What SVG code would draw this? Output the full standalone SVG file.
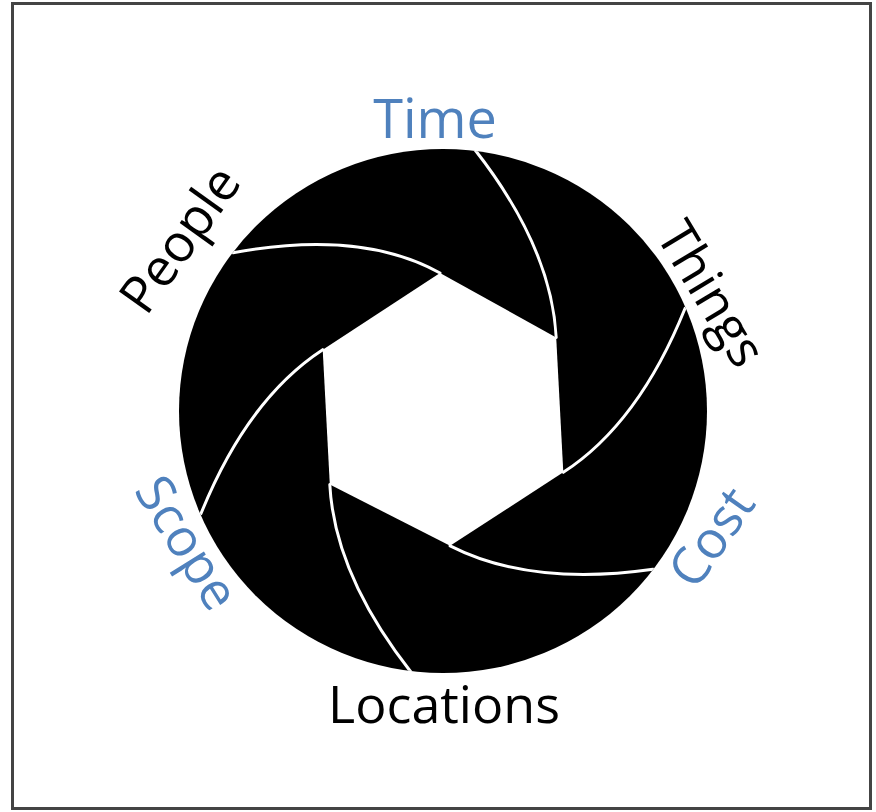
<svg xmlns="http://www.w3.org/2000/svg" width="876" height="812" viewBox="0 0 876 812">
<style>
.lbl{font-family:"Open Sans","Liberation Sans",sans-serif;font-size:52px;text-anchor:middle}
.blue{fill:#4f81bd}
.dark{fill:#000}
.edge{fill:none;stroke:#fff;stroke-width:3;stroke-linecap:round}
</style>
<defs>
<clipPath id="disc"><ellipse cx="443" cy="411" rx="264" ry="262"/></clipPath>
</defs>
<rect x="0" y="0" width="876" height="812" fill="#fff"/>
<rect id="frame" x="12.5" y="3.5" width="858" height="805" fill="#fff" stroke="#444" stroke-width="3"/>
<g id="aperture">
<ellipse cx="443" cy="411" rx="264" ry="262" fill="#000"/>
<polygon points="440,273 556.2,337.5 563.3,472.3 450.1,545.8 329.8,484.5 322.7,349.7" fill="#fff"/>
<g clip-path="url(#disc)" class="edge">
<path d="M440,273 Q361.3,229.3 233,252.7"/>
<path d="M556.2,337.5 Q551.5,247.6 475.1,150"/>
<path d="M563.3,472.3 Q638.8,423.3 685.1,308.2"/>
<path d="M450.1,545.8 Q530.3,586.7 653,569.3"/>
<path d="M329.8,484.5 Q334.5,574.4 410.9,672"/>
<path d="M322.7,349.7 Q247.3,399 200.9,513.8"/>
</g>
</g>
<g id="label-time"><text class="lbl blue" x="435" y="137.5" style="font-size:54px">Time</text></g>
<g id="label-people"><text class="lbl dark" transform="translate(194.5,249.9) rotate(-54.4)">People</text></g>
<g id="label-things"><text class="lbl dark" transform="translate(695.9,303) rotate(59)">Things</text></g>
<g id="label-scope"><text class="lbl blue" transform="translate(171.8,552.4) rotate(58)">Scope</text></g>
<g id="label-cost"><text class="lbl blue" transform="translate(726.2,547.6) rotate(-55)">Cost</text></g>
<g id="label-locations"><text class="lbl dark" x="444" y="723">Locations</text></g>
</svg>
